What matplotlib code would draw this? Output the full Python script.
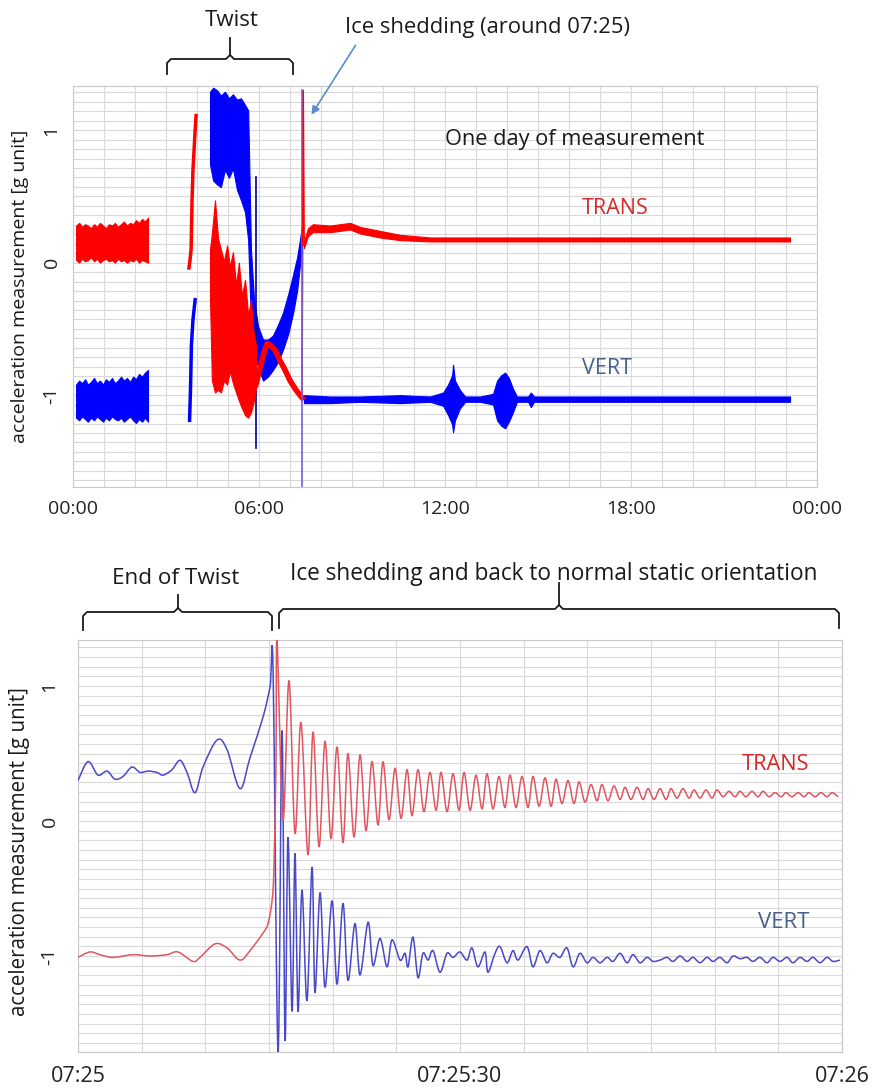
import numpy as np
import matplotlib
matplotlib.use("Agg")
import matplotlib.pyplot as plt
from matplotlib.ticker import MultipleLocator
from matplotlib.lines import Line2D
from matplotlib.patches import FancyArrowPatch, PathPatch
from matplotlib.path import Path

plt.rcParams['font.family'] = ['Open Sans', 'DejaVu Sans']

# ---------------- top panel: one day (hours) ----------------
# quiet period before the twist, noise envelopes
pre_h = [0.10, 0.20, 0.29, 0.39, 0.48, 0.58, 0.68, 0.77, 0.87, 0.97, 1.06, 1.16, 1.26,
         1.35, 1.45, 1.55, 1.64, 1.74, 1.84, 1.94, 2.03, 2.13, 2.23, 2.32, 2.42]
trans_pre_hi = [0.28, 0.30, 0.27, 0.29, 0.28, 0.26, 0.29, 0.27, 0.30, 0.28, 0.26, 0.29, 0.28,
                0.30, 0.27, 0.29, 0.31, 0.28, 0.30, 0.29, 0.32, 0.30, 0.33, 0.31, 0.34]
trans_pre_lo = [0.02, 0.00, 0.03, 0.01, 0.02, 0.04, 0.01, 0.03, 0.00, 0.02, 0.03, 0.01, 0.02,
                0.00, 0.03, 0.01, 0.02, 0.00, 0.02, 0.01, 0.03, 0.00, 0.02, 0.01, 0.00]
vert_pre_hi = [-0.92, -0.89, -0.91, -0.88, -0.92, -0.90, -0.87, -0.91, -0.89, -0.92, -0.88, -0.90, -0.87,
               -0.91, -0.89, -0.86, -0.89, -0.87, -0.90, -0.86, -0.88, -0.84, -0.86, -0.83, -0.81]
vert_pre_lo = [-1.17, -1.19, -1.16, -1.18, -1.20, -1.17, -1.19, -1.16, -1.18, -1.20, -1.17, -1.19, -1.16,
               -1.18, -1.19, -1.17, -1.20, -1.18, -1.16, -1.19, -1.21, -1.18, -1.20, -1.17, -1.20]

# short burst around 03:50
trans_burst_h = [3.74, 3.77, 3.81, 3.84, 3.87, 3.94, 3.97]
trans_burst_v = [-0.04, 0.01, 0.10, 0.47, 0.70, 1.00, 1.11]
vert_burst_h = [3.76, 3.79, 3.82, 3.87, 3.94]
vert_burst_v = [-1.19, -0.96, -0.62, -0.43, -0.28]

# twist
trans_tw_h = [4.42, 4.48, 4.58, 4.68, 4.77, 4.87, 4.97, 5.06, 5.16, 5.26, 5.35, 5.45, 5.55, 5.65, 5.74, 5.81, 5.90]
trans_tw_hi = [0.10, 0.22, 0.47, 0.18, 0.10, 0.01, 0.13, -0.03, 0.08, -0.17, 0.00, -0.25, -0.13, -0.40, -0.28, -0.50, -0.62]
trans_tw_lo = [-0.28, -0.89, -0.98, -0.96, -0.98, -0.89, -0.92, -0.82, -0.91, -0.98, -1.04, -1.10, -1.15, -1.17, -1.13, -1.07, -0.96]
trans_tail_h = [5.90, 6.03, 6.16, 6.26, 6.35, 6.52, 6.68, 6.84, 7.00, 7.19, 7.39]
trans_tail_v = [-0.92, -0.80, -0.68, -0.61, -0.62, -0.66, -0.74, -0.81, -0.89, -0.96, -1.02]

vert_tw_h = [4.42, 4.52, 4.65, 4.77, 4.90, 5.03, 5.16, 5.29, 5.42, 5.55, 5.65, 5.74, 5.84, 5.97,
             6.13, 6.29, 6.45, 6.61, 6.77, 6.94, 7.10, 7.23, 7.32, 7.39]
vert_tw_hi = [1.29, 1.32, 1.30, 1.26, 1.29, 1.24, 1.27, 1.23, 1.24, 1.19, 1.15, 0.10, -0.28, -0.48,
              -0.58, -0.58, -0.55, -0.47, -0.38, -0.24, -0.09, 0.04, 0.17, 0.28]
vert_tw_lo = [0.74, 0.62, 0.59, 0.57, 0.70, 0.64, 0.71, 0.55, 0.47, 0.38, 0.17, -0.45, -0.66, -0.79,
              -0.89, -0.86, -0.81, -0.75, -0.66, -0.54, -0.38, -0.21, -0.02, 0.13]
vert_spike_h = [5.90, 5.90]
vert_spike_v = [0.65, -1.40]

# ice shedding
shed_h = 7.38
shed_vert = [1.30, -1.69]
trans_jump_h = [7.39, 7.41]
trans_jump_v = [-1.02, 0.13]
trans_shed_h = [7.41, 7.43, 7.46]
trans_shed_v = [0.13, 1.30, 0.13]

# after shedding
trans_post_h = [7.45, 7.58, 7.74, 8.29, 8.94, 9.26, 9.90, 10.55, 11.52, 12.48, 13.77, 16.87, 20.10, 23.13]
trans_post_hi = [0.16, 0.26, 0.29, 0.28, 0.30, 0.27, 0.24, 0.21, 0.19, 0.19, 0.19, 0.19, 0.19, 0.19]
trans_post_lo = [0.11, 0.20, 0.23, 0.23, 0.25, 0.22, 0.19, 0.17, 0.16, 0.16, 0.16, 0.16, 0.16, 0.16]
vert_post_h = [7.45, 8.29, 9.26, 10.55, 11.52, 11.94, 12.10, 12.23, 12.26, 12.32, 12.48, 12.65, 13.13,
               13.55, 13.68, 13.81, 13.94, 14.06, 14.19, 14.32, 14.68, 14.77, 14.87, 15.71, 17.00, 20.23, 23.13]
vert_post_hi = [-1.00, -1.01, -1.01, -1.00, -1.01, -0.98, -0.92, -0.85, -0.77, -0.89, -0.96, -1.01, -1.01,
                -0.99, -0.89, -0.85, -0.83, -0.87, -0.95, -1.01, -1.01, -0.98, -1.01, -1.01, -1.01, -1.01, -1.01]
vert_post_lo = [-1.06, -1.06, -1.05, -1.06, -1.05, -1.08, -1.15, -1.22, -1.28, -1.19, -1.10, -1.05, -1.05,
                -1.07, -1.19, -1.23, -1.25, -1.20, -1.13, -1.05, -1.05, -1.09, -1.05, -1.05, -1.05, -1.05, -1.05]

day_ticks = [0, 6, 12, 18, 24]
day_labels = ['00:00', '06:00', '12:00', '18:00', '00:00']

# ---------------- bottom panel: 07:25 - 07:26 (seconds) ----------------
vert_sec_t = [0.00, 0.79, 1.57, 2.28, 2.90, 3.53, 4.24, 4.87, 5.50, 6.20, 6.68, 7.38, 8.01, 8.56, 9.19,
              9.82, 10.92, 11.70, 12.72, 13.51, 14.53, 15.08, 15.32,
              15.71, 16.02, 16.26, 16.49, 16.81, 17.04, 17.28, 17.59, 17.98, 18.38,
              18.61, 19.01, 19.40, 19.95, 20.34, 20.81, 21.20, 21.75, 22.15, 22.78,
              23.17, 23.72, 24.27, 24.66, 25.29, 25.68, 25.92, 26.31, 26.70, 27.09,
              27.49, 27.88, 28.43, 28.98, 29.45, 30.00, 30.55, 30.94, 31.41, 31.96,
              32.20, 32.75, 33.14, 33.69, 34.16, 34.56, 35.26, 35.73, 36.28, 36.83,
              37.30, 37.85, 38.40, 38.88, 39.42, 39.97, 40.45, 41.00, 41.55, 42.02,
              42.57, 43.12, 43.59, 44.14, 44.69, 45.16, 45.71, 46.26, 46.73, 47.28,
              47.83, 48.30, 48.85, 49.40, 49.87, 50.42, 50.97, 51.44, 51.99, 52.54,
              53.01, 53.56, 54.11, 54.58, 55.13, 55.68, 56.15, 56.70, 57.25, 57.72,
              58.27, 58.82, 59.29, 59.84]
vert_sec_v = [0.30, 0.44, 0.34, 0.37, 0.31, 0.33, 0.40, 0.36, 0.37, 0.36, 0.34, 0.38, 0.45, 0.36, 0.21,
              0.40, 0.60, 0.53, 0.24, 0.47, 0.77, 0.99, 1.12,
              -1.71, 0.67, -1.62, -0.12, -1.41, -0.24, -1.41, -0.51, -1.33, -0.34,
              -1.27, -0.53, -1.23, -0.59, -1.21, -0.61, -1.18, -0.76, -1.14, -0.75,
              -1.07, -0.87, -1.08, -0.88, -1.03, -0.98, -1.08, -0.86, -1.16, -0.98,
              -1.03, -0.96, -1.12, -0.98, -1.01, -0.97, -1.03, -0.94, -1.08, -0.97,
              -1.12, -0.98, -0.93, -1.05, -0.96, -1.03, -0.93, -1.08, -0.96, -1.05,
              -0.98, -1.01, -0.94, -1.08, -0.98, -1.05, -1.01, -1.05, -1.01, -1.04,
              -0.98, -1.05, -0.99, -1.05, -1.01, -1.04, -1.03, -1.01, -1.04, -1.00,
              -1.04, -1.01, -1.05, -1.01, -1.04, -1.01, -1.05, -1.00, -1.02, -1.01,
              -1.04, -1.01, -1.05, -1.01, -1.04, -1.01, -1.05, -1.01, -1.04, -1.01,
              -1.05, -1.01, -1.04, -1.03]

trans_sec_pre_t = [0.00, 0.94, 1.73, 2.75, 4.32, 5.65, 6.99, 7.85, 9.03, 9.58, 10.76, 11.70, 12.72,
                   13.51, 14.53, 14.92, 15.24, 15.39, 15.55]
trans_sec_pre_v = [-1.01, -0.97, -0.99, -1.01, -0.99, -1.00, -0.99, -0.97, -1.04, -1.01, -0.91, -0.94,
                   -1.03, -0.96, -0.83, -0.76, -0.59, -0.34, 0.45]
trans_peak_t = [15.63, 16.57, 17.51, 18.46, 19.40, 20.34, 21.20, 22.15, 23.09, 23.95,
                24.90, 25.84, 26.70, 27.64, 28.51, 29.45, 30.32, 31.26, 32.12, 33.06,
                33.93, 34.87, 35.73, 36.68, 37.54, 38.48, 39.35, 40.29, 41.15, 42.09,
                42.96, 43.90, 44.77, 45.71, 46.57, 47.51, 48.38, 49.32, 50.18, 51.13,
                51.99, 52.93, 53.80, 54.74, 55.60, 56.55, 57.41, 58.35, 59.22]
trans_peak_v = [1.34, 1.04, 0.73, 0.66, 0.59, 0.55, 0.50, 0.49, 0.44, 0.44,
                0.39, 0.38, 0.38, 0.36, 0.36, 0.35, 0.36, 0.34, 0.35, 0.33,
                0.34, 0.33, 0.33, 0.32, 0.31, 0.30, 0.29, 0.27, 0.27, 0.26,
                0.25, 0.25, 0.24, 0.24, 0.24, 0.24, 0.23, 0.23, 0.23, 0.22,
                0.22, 0.22, 0.22, 0.21, 0.21, 0.21, 0.21, 0.21, 0.21]
trans_trough_t = [16.10, 17.04, 18.06, 18.93, 19.87, 20.81, 21.68, 22.62, 23.56, 24.42,
                  25.37, 26.23, 27.17, 28.12, 28.98, 29.92, 30.79, 31.73, 32.59, 33.53,
                  34.40, 35.34, 36.21, 37.15, 38.01, 38.95, 39.82, 40.76, 41.62, 42.57,
                  43.43, 44.37, 45.24, 46.18, 47.04, 47.99, 48.85, 49.79, 50.66, 51.60,
                  52.46, 53.40, 54.27, 55.21, 56.07, 57.02, 57.88, 58.82, 59.69]
trans_trough_v = [0.01, -0.09, -0.25, -0.19, -0.13, -0.16, -0.12, -0.07, -0.03, 0.01,
                  0.02, 0.04, 0.07, 0.08, 0.07, 0.08, 0.08, 0.09, 0.09, 0.10,
                  0.10, 0.10, 0.11, 0.11, 0.13, 0.13, 0.14, 0.15, 0.15, 0.16,
                  0.16, 0.16, 0.16, 0.16, 0.17, 0.17, 0.17, 0.17, 0.18, 0.18,
                  0.18, 0.18, 0.18, 0.18, 0.18, 0.18, 0.18, 0.18, 0.18]

sec_ticks = [0, 30, 60]
sec_labels = ['07:25', '07:25:30', '07:26']

# ---------------- figure ----------------
W, H = 874, 1089
fig = plt.figure(figsize=(W / 100, H / 100), dpi=100)


def fx(x):
    return x / W


def fy(y):
    return 1 - y / H


def style_axes(ax, xstep, ystep, fs):
    ax.xaxis.set_minor_locator(MultipleLocator(xstep))
    ax.yaxis.set_minor_locator(MultipleLocator(ystep))
    ax.grid(True, which='both', color='#d9d9d9', lw=0.8)
    ax.set_axisbelow(True)
    for s in ax.spines.values():
        s.set_color('#c8c8c8')
    ax.tick_params(which='both', length=0)
    ax.tick_params(axis='x', labelsize=fs, pad=9, labelcolor='#222222')
    ax.tick_params(axis='y', labelsize=14, pad=9, labelcolor='#222222', labelrotation=90)
    for lab in ax.get_yticklabels():
        lab.set_va('center')


def smooth_line(ax, t, v, **kw):
    # smoothed line through the points (like a spreadsheet "smoothed line")
    p = np.column_stack([t, v])
    n = len(p)
    verts = [p[0]]
    codes = [Path.MOVETO]
    for i in range(n - 1):
        p0 = p[i - 1] if i > 0 else p[i]
        p3 = p[i + 2] if i + 2 < n else p[i + 1]
        verts += [p[i] + (p[i + 1] - p0) / 6, p[i + 1] - (p3 - p[i]) / 6, p[i + 1]]
        codes += [Path.CURVE4] * 3
    ax.add_patch(PathPatch(Path(verts, codes), facecolor='none', **kw))


RED = '#ff0000'
BLUE = '#0000ff'

ax1 = fig.add_axes([fx(73), fy(487), fx(744), 401 / H])
ax1.set_xlim(0, 24)
ax1.set_ylim(-1.693, 1.333)

ax1.plot(trans_jump_h, trans_jump_v, color=RED, lw=1, zorder=1.5)
ax1.fill_between(pre_h, vert_pre_lo, vert_pre_hi, color=BLUE, lw=0.8, zorder=2)
ax1.plot(vert_burst_h, vert_burst_v, color=BLUE, lw=2.5, zorder=2)
ax1.fill_between(vert_tw_h, vert_tw_lo, vert_tw_hi, color=BLUE, lw=0.8, zorder=2)
ax1.plot(vert_spike_h, vert_spike_v, color='#00008b', lw=1.2, zorder=2)
ax1.fill_between(vert_post_h, vert_post_lo, vert_post_hi, color=BLUE, lw=0.8, zorder=2)

ax1.fill_between(pre_h, trans_pre_lo, trans_pre_hi, color=RED, lw=0.8, zorder=3)
ax1.plot(trans_burst_h, trans_burst_v, color=RED, lw=2.5, zorder=3)
ax1.fill_between(trans_tw_h, trans_tw_lo, trans_tw_hi, color=RED, lw=0.8, zorder=3)
ax1.plot(trans_tail_h, trans_tail_v, color=RED, lw=4, zorder=3)
ax1.fill_between(trans_post_h, trans_post_lo, trans_post_hi, color=RED, lw=0.8, zorder=3)
ax1.plot([shed_h, shed_h], shed_vert, color='#6f5fe0', lw=1.2, zorder=4)
ax1.plot(trans_shed_h, trans_shed_v, color=RED, lw=1, zorder=4.5)

ax1.set_xticks(day_ticks)
ax1.set_xticklabels(day_labels)
ax1.set_yticks([-1, 0, 1])
ax1.set_yticklabels(['-1', '0', '1'])
style_axes(ax1, 1, 1 / 14, 14)

ax2 = fig.add_axes([fx(78), fy(1052), fx(764), 412 / H])
ax2.set_xlim(0, 60)
ax2.set_ylim(-1.711, 1.341)

trans_osc = sorted(zip(trans_peak_t + trans_trough_t, trans_peak_v + trans_trough_v))
trans_sec_t = trans_sec_pre_t + [p[0] for p in trans_osc]
trans_sec_v = trans_sec_pre_v + [p[1] for p in trans_osc]

smooth_line(ax2, vert_sec_t, vert_sec_v, edgecolor='#4848c8', lw=1.1, zorder=3)
smooth_line(ax2, trans_sec_t, trans_sec_v, edgecolor='#e05560', lw=1.1, zorder=3)

ax2.set_xticks(sec_ticks)
ax2.set_xticklabels(sec_labels)
ax2.set_yticks([-1, 0, 1])
ax2.set_yticklabels(['-1', '0', '1'])
style_axes(ax2, 5, 1 / 14, 15.5)
ax2.tick_params(axis='x', pad=10)
ax2.tick_params(axis='y', pad=14)

# ---------------- annotations ----------------
txt = dict(ha='center', va='center', color='#1a1a1a')
fig.text(fx(232), fy(20), 'Twist', fontsize=16, **txt)
fig.text(fx(487), fy(28), 'Ice shedding (around 07:25)', fontsize=15.8, **txt)
fig.text(fx(575), fy(139), 'One day of measurement', fontsize=15.7, **txt)
fig.text(fx(615), fy(208), 'TRANS', fontsize=15.5, ha='center', va='center', color='#d42a2a')
fig.text(fx(607), fy(369), 'VERT', fontsize=15.5, ha='center', va='center', color='#46608a')
fig.text(fx(176), fy(578), 'End of Twist', fontsize=16.2, **txt)
fig.text(fx(554), fy(574), 'Ice shedding and back to normal static orientation', fontsize=16.3, **txt)
fig.text(fx(776), fy(765), 'TRANS', fontsize=15.7, ha='center', va='center', color='#d42a2a')
fig.text(fx(784), fy(923), 'VERT', fontsize=16, ha='center', va='center', color='#46608a')

ylab = 'acceleration measurement [g unit]'
fig.text(fx(20), fy(286), ylab, rotation=90, fontsize=14, **txt)
fig.text(fx(20), fy(852), ylab, rotation=90, fontsize=14.8, **txt)


def brace(x0, x1, xm, yh, yend, ytip):
    pts = [(x0, yend), (x0, yh + 4), (x0 + 4, yh), (xm - 4, yh), (xm, yh - 4), (xm, ytip)]
    pts2 = [(xm, yh - 4), (xm + 4, yh), (x1 - 4, yh), (x1, yh + 4), (x1, yend)]
    for p in (pts, pts2):
        fig.add_artist(Line2D([fx(a) for a, b in p], [fy(b) for a, b in p],
                              color='#1a1a1a', lw=1.3))


brace(167, 293, 230, 59, 74, 38)
brace(83, 272, 178, 612, 630, 595)
brace(279, 839, 559, 609, 628, 583)

fig.add_artist(FancyArrowPatch((fx(357), fy(43)), (fx(310), fy(117)), transform=fig.transFigure,
                               arrowstyle='-|>', mutation_scale=12, color='#5b8cc8', lw=1.2))

fig.savefig('out.png', dpi=100)
